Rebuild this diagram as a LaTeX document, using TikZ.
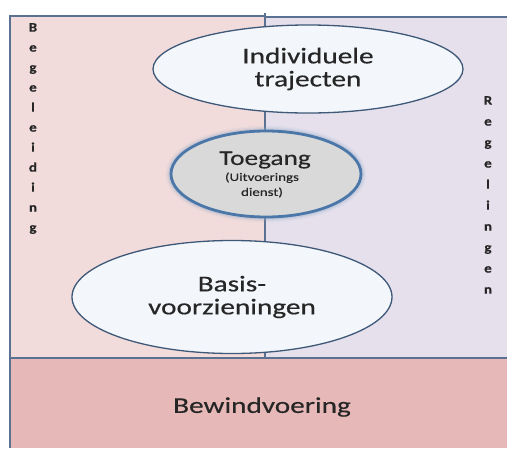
\documentclass[tikz,border=0pt]{standalone}
\usepackage{fontspec}
\setmainfont{Carlito}
\newfontfamily\widefont[FakeStretch=1.3,FakeBold=0.4]{Carlito}
\newfontfamily\sidefont[FakeStretch=1.15,FakeBold=0.5]{Carlito}
\usetikzlibrary{shapes.geometric}
\definecolor{leftpink}{HTML}{F2DCDB}
\definecolor{rightlav}{HTML}{E6E0EC}
\definecolor{botpink}{HTML}{E6B8B7}
\definecolor{framec}{HTML}{5B7191}
\definecolor{ellborder}{HTML}{3E5878}
\definecolor{ellfill}{HTML}{F3F6FB}
\definecolor{toefill}{HTML}{D9D9D9}
\definecolor{toeborder}{HTML}{4A76A8}
\definecolor{txt}{HTML}{262626}
\tikzset{
  panel/.style={draw=framec, line width=1.2pt},
  bigell/.style={ellipse, draw=ellborder, line width=1.3pt, fill=ellfill, inner sep=0pt, text=txt, align=center, font=\widefont\fontsize{22.5}{23}\selectfont},
  toeell/.style={ellipse, draw=toeborder, line width=2.8pt, fill=toefill, inner sep=0pt},
  sidetxt/.style={font=\sidefont\bfseries\fontsize{13}{20}\selectfont, text=txt, align=center, inner sep=0pt}
}
\begin{document}
\begin{tikzpicture}[x=1pt, y=-1pt]
\useasboundingbox (0,0) rectangle (507,448);
\fill[white] (0,0) rectangle (507,448);
% panels
\fill[leftpink] (10,16) rectangle (265,358);
\fill[rightlav] (265,17) rectangle (507,358);
\draw[panel] (10,358) -- (10,16) -- (265,16);
\draw[panel] (265,17) -- (507,17);
\fill[botpink] (10,358) rectangle (507,448);
\draw[panel] (10,448) -- (10,358) -- (507,358);
% vertical connector
\coordinate (ltop) at (265,13);
\coordinate (lbot) at (265,358);
\draw[framec, line width=2.6pt] (ltop) -- (lbot);
% side texts
\node[sidetxt, anchor=north] (beg) at (33,23) {B\\e\\g\\e\\l\\e\\i\\d\\i\\n\\g};
\node[sidetxt, anchor=north, font=\sidefont\bfseries\fontsize{13}{21}\selectfont] (reg) at (488,96) {R\\e\\g\\e\\l\\i\\n\\g\\e\\n};
% ellipses
\node[bigell, minimum width=310pt, minimum height=88pt] (ind) at (308,69) {Individuele\\trajecten};
\foreach \w/\o in {11/0.08,8/0.14,5.5/0.25}
  \draw[toeborder!60, line width=\w pt, opacity=\o] (266,174) ellipse (95 and 43);
\node[toeell, minimum width=190pt, minimum height=86pt] (toe) at (266,174) {};
\node[text=txt, font=\widefont\fontsize{21}{22}\selectfont, inner sep=0pt] (toet) at (265,160) {Toegang};
\node[text=txt, align=center, font=\widefont\fontsize{11.5}{15}\selectfont, inner sep=0pt] (toes) at (262,185) {(Uitvoerings\\dienst)};
\node[bigell, minimum width=320pt, minimum height=113pt] (bas) at (232,297) {Basis-\\voorzieningen};
% bottom text
\node[text=txt, font=\widefont\fontsize{22.5}{24}\selectfont] (bew) at (262,407) {Bewindvoering};
\end{tikzpicture}
\end{document}
